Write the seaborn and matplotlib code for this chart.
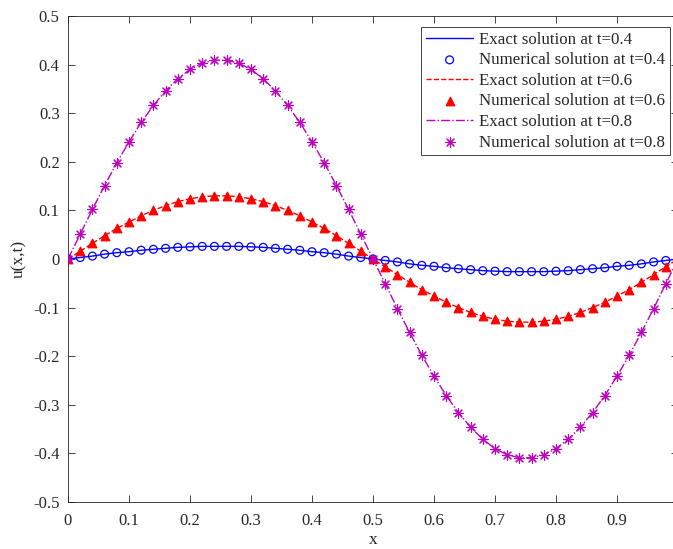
import numpy as np
import pandas as pd
import seaborn as sns
import matplotlib.pyplot as plt

# grid points
x_vals = [round(0.02 * i, 2) for i in range(51)]

# u(x,t)
u_t04 = [0, 0.003, 0.006, 0.010, 0.013, 0.015, 0.018, 0.020, 0.022, 0.024, 0.025, 0.026, 0.026,
         0.026, 0.026, 0.025, 0.024, 0.022, 0.020, 0.018, 0.015, 0.013, 0.010, 0.006, 0.003, 0,
         -0.003, -0.006, -0.010, -0.013, -0.015, -0.018, -0.020, -0.022, -0.024, -0.025, -0.026,
         -0.026, -0.026, -0.026, -0.025, -0.024, -0.022, -0.020, -0.018, -0.015, -0.013, -0.010,
         -0.006, -0.003, 0]
u_t06 = [0, 0.016, 0.032, 0.048, 0.063, 0.076, 0.089, 0.100, 0.110, 0.118, 0.124, 0.128, 0.130,
         0.130, 0.128, 0.124, 0.118, 0.110, 0.100, 0.089, 0.076, 0.063, 0.048, 0.032, 0.016, 0,
         -0.016, -0.032, -0.048, -0.063, -0.076, -0.089, -0.100, -0.110, -0.118, -0.124, -0.128,
         -0.130, -0.130, -0.128, -0.124, -0.118, -0.110, -0.100, -0.089, -0.076, -0.063, -0.048,
         -0.032, -0.016, 0]
u_t08 = [0, 0.051, 0.102, 0.151, 0.198, 0.241, 0.281, 0.316, 0.346, 0.371, 0.390, 0.403, 0.409,
         0.409, 0.403, 0.390, 0.371, 0.346, 0.316, 0.281, 0.241, 0.198, 0.151, 0.102, 0.051, 0,
         -0.051, -0.102, -0.151, -0.198, -0.241, -0.281, -0.316, -0.346, -0.371, -0.390, -0.403,
         -0.409, -0.409, -0.403, -0.390, -0.371, -0.346, -0.316, -0.281, -0.241, -0.198, -0.151,
         -0.102, -0.051, 0]

times = ["0.4", "0.6", "0.8"]
series = {"0.4": u_t04, "0.6": u_t06, "0.8": u_t08}

sns.set_style("ticks")
plt.rcParams["font.family"] = ["Liberation Serif", "DejaVu Serif"]
plt.rcParams["axes.unicode_minus"] = False
plt.rcParams["xtick.direction"] = "in"
plt.rcParams["ytick.direction"] = "in"

fig = plt.figure(figsize=(6.73, 5.49), dpi=100)
ax = fig.add_axes([68 / 673, 1 - 502 / 549, 610 / 673, 486 / 549])

# asterisk like matlab's '*'
asterisk = (8, 2, 0)
styles = {
    "0.4": dict(color="#0000ff", ls="-", marker="o", kind="open", s=32),
    "0.6": dict(color="#ff0000", ls="--", marker="^", kind="filled", s=38),
    "0.8": dict(color="#bf00bf", ls="-.", marker=asterisk, kind="line", s=50),
}

for t in times:
    st = styles[t]
    df = pd.DataFrame({"x": x_vals, "u": series[t]})
    sns.lineplot(data=df, x="x", y="u", ax=ax, color=st["color"], linestyle=st["ls"],
                 linewidth=1.0, label=f"Exact solution at t={t}")
    if st["kind"] == "filled":
        kw = dict(color=st["color"], edgecolor=st["color"], linewidth=0.9)
    elif st["kind"] == "open":
        kw = dict(facecolor="none", edgecolor=st["color"], linewidth=0.9)
    else:
        kw = dict(color=st["color"], linewidth=0.8)
    sns.scatterplot(data=df, x="x", y="u", ax=ax, marker=st["marker"], s=st["s"],
                    zorder=3, label=f"Numerical solution at t={t}", **kw)

ax.set_xlim(0, 1)
ax.set_ylim(-0.5, 0.5)
ax.set_xticks(np.arange(0, 1.01, 0.1))
ax.set_xticklabels(["0", "0.1", "0.2", "0.3", "0.4", "0.5", "0.6", "0.7", "0.8", "0.9", ""])
ax.set_yticks(np.arange(-0.5, 0.51, 0.1))
ax.set_yticklabels(["-0.5", "-0.4", "-0.3", "-0.2", "-0.1", "0", "0.1", "0.2", "0.3", "0.4", "0.5"])
ax.tick_params(labelsize=12, colors="#262626", top=True, right=True, length=5, width=0.6)
ax.tick_params(axis="x", pad=8)
ax.tick_params(axis="y", pad=6)
for sp in ax.spines.values():
    sp.set_color("#262626")
    sp.set_linewidth(0.6)
ax.set_xlabel("x", fontsize=12.5, color="#262626", labelpad=2)
ax.set_ylabel("u(x,t)", fontsize=12.5, color="#262626")

h, l = ax.get_legend_handles_labels()
order = []
for t in times:
    order.append(l.index(f"Exact solution at t={t}"))
    order.append(l.index(f"Numerical solution at t={t}"))
leg = ax.legend([h[i] for i in order], [l[i] for i in order], loc="upper right",
                bbox_to_anchor=(670 / 673, 1 - 27 / 549), bbox_transform=fig.transFigure,
                fontsize=12.2, frameon=True, fancybox=False, framealpha=1,
                edgecolor="#262626", borderaxespad=0, handlelength=2.8,
                labelspacing=0.27, borderpad=0.28, handletextpad=0.35)
leg.get_frame().set_linewidth(0.6)

fig.savefig("out.png", dpi=100)
